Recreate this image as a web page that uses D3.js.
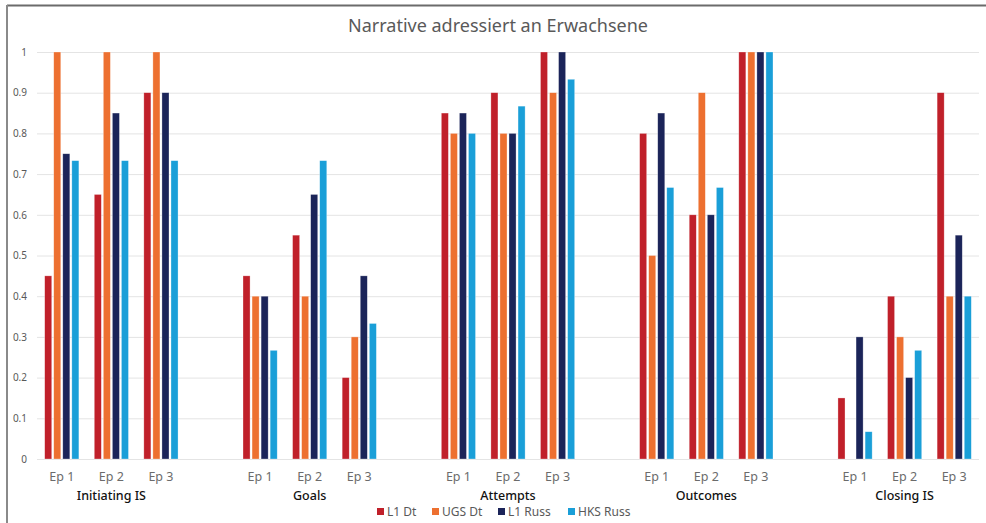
<!DOCTYPE html>
<html>
<head>
<meta charset="utf-8">
<script src="https://cdn.jsdelivr.net/npm/d3@7"></script>
<style>
  html, body { margin: 0; padding: 0; background: #fff; }
  svg { display: block; font-family: "Noto Sans", "Open Sans", sans-serif; }
</style>
</head>
<body>
<svg id="chart" width="986" height="523"></svg>
<script>
const title = "Narrative adressiert an Erwachsene";
const groups = ["Initiating IS", "Goals", "Attempts", "Outcomes", "Closing IS"];
const episodes = ["Ep 1", "Ep 2", "Ep 3"];
const seriesNames = ["L1 Dt", "UGS Dt", "L1 Russ", "HKS Russ"];
const seriesColors = ["#C0202A", "#ED7030", "#1B2459", "#1A9FD8"];
const yTicks = [0, 0.1, 0.2, 0.3, 0.4, 0.5, 0.6, 0.7, 0.8, 0.9, 1];
// values per series, ordered group by group, Ep 1..3
const l1Dt   = [0.45, 0.65, 0.9,  0.45, 0.55, 0.2,  0.85, 0.9, 1,    0.8, 0.6, 1,  0.15, 0.4, 0.9];
const ugsDt  = [1, 1, 1,          0.4, 0.4, 0.3,    0.8, 0.8, 0.9,   0.5, 0.9, 1,  0, 0.3, 0.4];
const l1Russ = [0.75, 0.85, 0.9,  0.4, 0.65, 0.45,  0.85, 0.8, 1,    0.85, 0.6, 1, 0.3, 0.2, 0.55];
const hksRuss= [0.733, 0.733, 0.733, 0.267, 0.733, 0.333, 0.8, 0.867, 0.933, 0.667, 0.667, 1, 0.067, 0.267, 0.4];
const seriesValues = [l1Dt, ugsDt, l1Russ, hksRuss];

(function () {
const svg = d3.select("#chart");
const W = 986, H = 523;
const pLeft = 37, pRight = 979, pTop = 52, pBottom = 459;

// frame (top and left border)
svg.append("line").attr("x1", 7).attr("x2", W).attr("y1", 5.5).attr("y2", 5.5)
  .attr("stroke", "#6b6b6b").attr("stroke-width", 2);
svg.append("line").attr("x1", 7).attr("x2", 7).attr("y1", 5).attr("y2", H)
  .attr("stroke", "#8a8a8a").attr("stroke-width", 2);

// slots: 3 episodes per group plus a blank slot between groups
const slots = [];
groups.forEach((g, gi) => {
  episodes.forEach((e, ei) => slots.push({key: g + "|" + e, group: g, ep: e, idx: gi * 3 + ei}));
  if (gi < groups.length - 1) slots.push({key: "blank" + gi, blank: true});
});

const x = d3.scaleBand().domain(slots.map(s => s.key)).range([pLeft, pRight]).paddingInner(0).paddingOuter(0);
const y = d3.scaleLinear().domain([0, 1]).range([pBottom, pTop]);
const inner = d3.scaleBand().domain(seriesNames).range([0, x.bandwidth()]).paddingInner(0.22).paddingOuter(0.85);

// gridlines
svg.append("g").selectAll("line").data(yTicks).join("line")
  .attr("x1", pLeft).attr("x2", pRight)
  .attr("y1", d => y(d) + 0.5).attr("y2", d => y(d) + 0.5)
  .attr("stroke", "#e4e4e4").attr("stroke-width", 1);

// y axis labels
const yAxis = d3.axisLeft(y).tickValues(yTicks).tickSize(0).tickPadding(0).tickFormat(d3.format("~g"));
const ya = svg.append("g").attr("transform", `translate(${pLeft - 10},0)`).call(yAxis);
ya.select(".domain").remove();
ya.selectAll("text").attr("fill", "#595959").style("font-size", "10px").attr("font-family", "Noto Sans, sans-serif");

// bars
const realSlots = slots.filter(s => !s.blank);
seriesNames.forEach((name, si) => {
  svg.append("g").selectAll("rect").data(realSlots).join("rect")
    .attr("x", s => x(s.key) + inner(name))
    .attr("width", inner.bandwidth())
    .attr("y", s => y(seriesValues[si][s.idx]))
    .attr("height", s => y(0) - y(seriesValues[si][s.idx]))
    .attr("fill", seriesColors[si])
    .attr("stroke", "#ffffff").attr("stroke-opacity", 0.5).attr("stroke-width", 0.6);
});

// episode labels
svg.append("g").selectAll("text").data(realSlots).join("text")
  .attr("x", s => x(s.key) + x.bandwidth() / 2)
  .attr("y", 481)
  .attr("text-anchor", "middle")
  .attr("fill", "#6b6b6b").style("font-size", "12.5px")
  .text(s => s.ep);

// group labels
svg.append("g").selectAll("text").data(groups).join("text")
  .attr("x", g => x(g + "|Ep 2") + x.bandwidth() / 2)
  .attr("y", 500)
  .attr("text-anchor", "middle")
  .attr("fill", "#111").style("font-size", "12.5px").style("font-weight", "500")
  .text(g => g);

// title
svg.append("text").attr("x", 498).attr("y", 32).attr("text-anchor", "middle")
  .attr("fill", "#595959").style("font-size", "18px").text(title);

// legend
const legendX = [377, 432, 498, 568];
const lg = svg.append("g").selectAll("g").data(seriesNames).join("g")
  .attr("transform", (d, i) => `translate(${legendX[i]},512)`);
lg.append("rect").attr("x", 0).attr("y", -4).attr("width", 7).attr("height", 7)
  .attr("fill", (d, i) => seriesColors[i]);
lg.append("text").attr("x", 10).attr("y", 4).attr("fill", "#595959")
  .style("font-size", "12px").text(d => d);
})();
</script>
</body>
</html>
